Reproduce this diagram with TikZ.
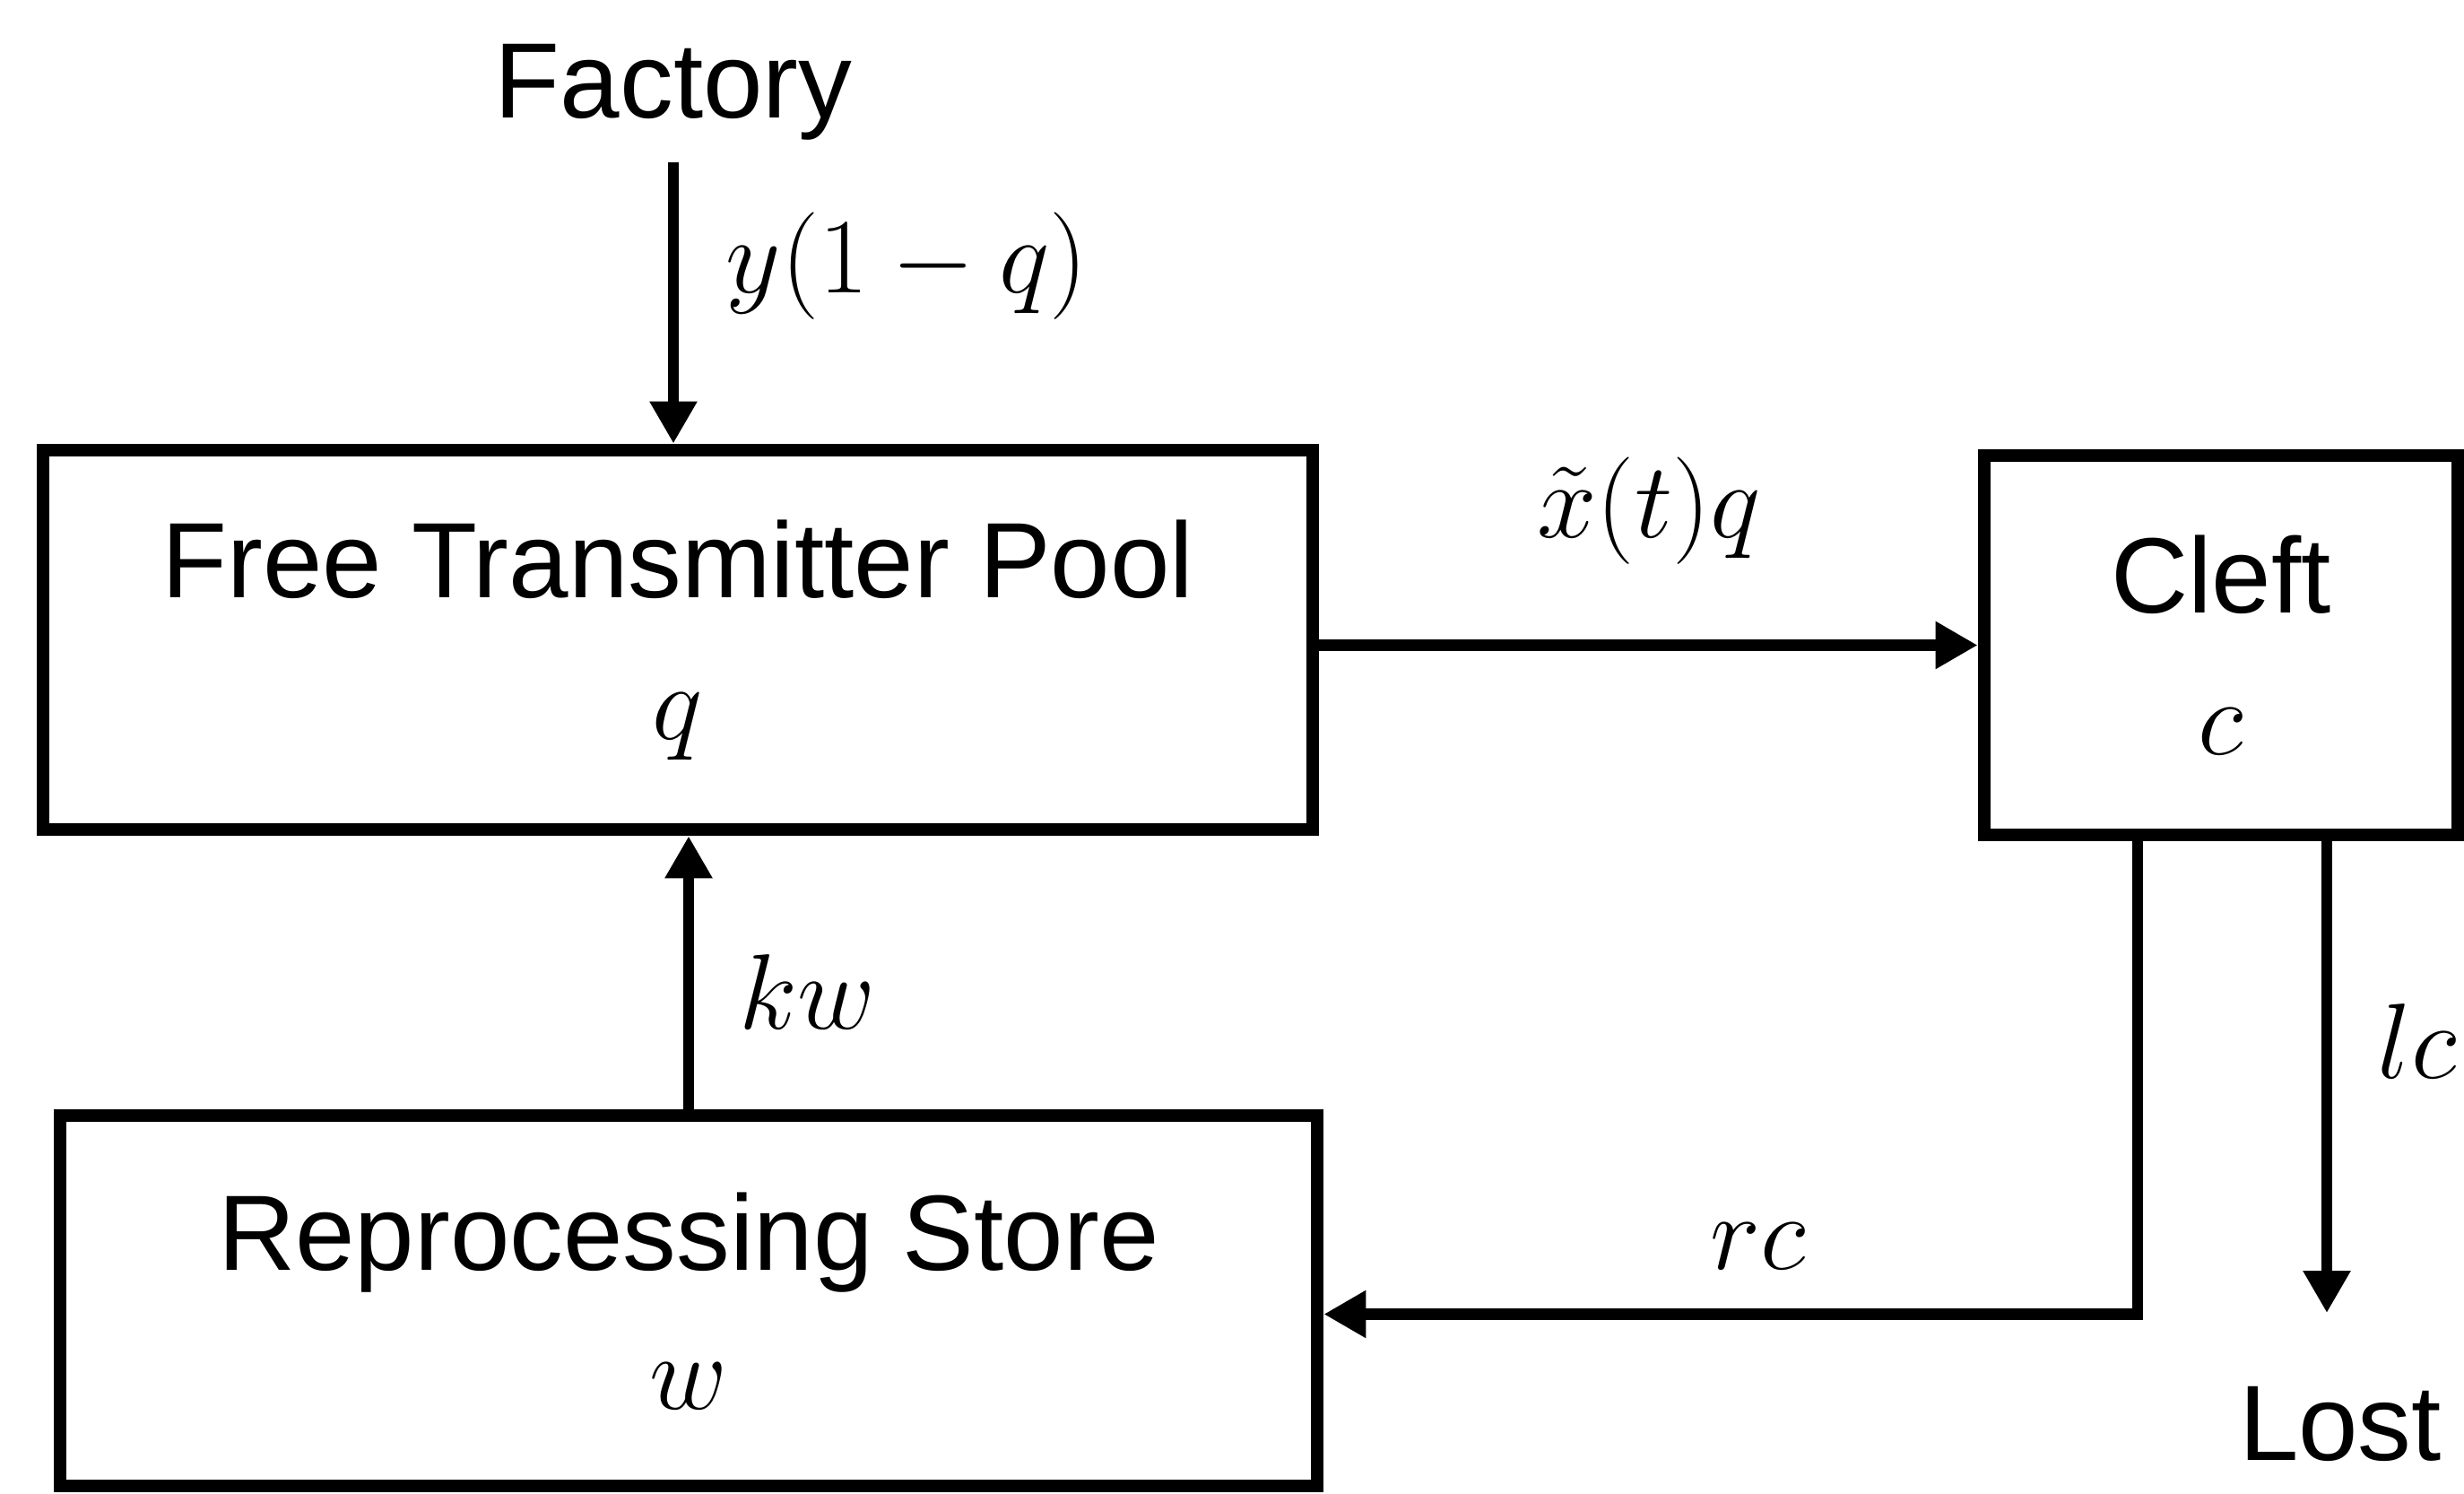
\documentclass[tikz,border=0pt]{standalone}
\usepackage{fix-cm}
\usepackage{fontspec}
\setmainfont{Liberation Sans}
\usetikzlibrary{arrows.meta}

\begin{document}
\begin{tikzpicture}[x=1cm, y=1cm, line cap=butt,
    big/.style={font=\fontsize{34}{45}\selectfont},
    pool/.style={big, draw, line width=4.2pt, align=center, inner sep=0pt},
    flow/.style={line width=3.6pt, -{Triangle[length=4.7mm, width=5mm]}},
    rate/.style={big, inner sep=0pt}]
    \useasboundingbox (0,0) rectangle (27.48,16.66);
    % --- compartimentos
    \node[pool, minimum width=14.16cm, minimum height=4.23cm] (ftp) at (7.56,9.525)
         {Free Transmitter Pool\\ $q$};
    \node[pool, minimum width=5.28cm, minimum height=4.23cm] (cleft) at (24.77,9.465)
         {Cleft\\ $c$};
    \node[pool, minimum width=14.02cm, minimum height=4.13cm] (store) at (7.68,2.155)
         {Reprocessing Store\\[-1pt] $w$};
    % --- fuente y sumidero
    \node[rate, anchor=base] (fac) at (7.51,15.34) {Factory};
    \node[rate, anchor=base] (lost) at (26.10,0.37) {Lost};
    \coordinate (lostin) at ([yshift=8.2mm]lost.north);
    % --- flujos entre compartimentos
    \draw[flow, shorten <=2.4mm] (fac.south) -- (fac.south |- ftp.north);
    \draw[flow] (cleft.west -| ftp.east) -- (cleft.west);
    \draw[flow] (store.north) -- (store.north |- ftp.south);
    \draw[flow] ([xshift=-9.3mm]cleft.south) |- ([yshift=-1.5mm]store.east);
    \draw[flow] ([xshift=11.8mm]cleft.south) -- ([xshift=11.8mm]cleft.south |- lostin);
    % --- tasas
    \node[rate, anchor=mid west] (ry) at (8.09,13.49) {$y(1-q)$};
    \node[rate, anchor=mid] (rx) at (18.39,10.76) {$\tilde{x}(t)q$};
    \node[rate, anchor=base west] (rk) at (8.24,5.18) {$kw$};
    \node[rate, anchor=base] (rr) at (19.61,2.50) {$rc$};
    \node[rate, anchor=base west] (rl) at (26.51,4.63) {$lc$};
\end{tikzpicture}
\end{document}
